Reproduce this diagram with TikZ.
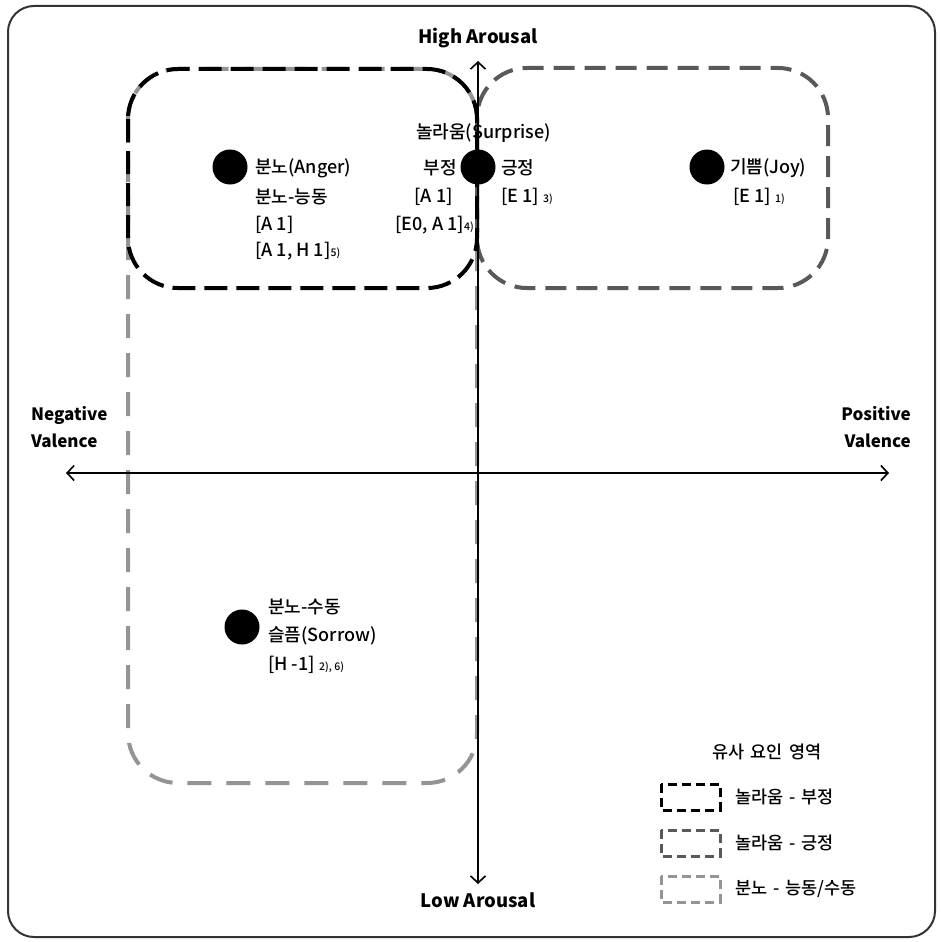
\documentclass[tikz,border=0pt]{standalone}
\usepackage{fontspec}
\setmainfont{Noto Sans CJK KR}
\newfontfamily\labfont{Noto Sans CJK KR Medium}
\usetikzlibrary{arrows.meta}
\begin{document}
\begin{tikzpicture}[x=1pt,y=-1pt,
  lbl/.style={inner sep=0pt, font=\labfont\fontsize{18}{18}\selectfont},
  leg/.style={inner sep=0pt, font=\labfont\fontsize{17.5}{17.5}\selectfont},
  axl/.style={inner sep=0pt, font=\fontsize{18.5}{22}\selectfont\bfseries, align=center},
  axs/.style={inner sep=0pt, font=\fontsize{17}{27}\selectfont\bfseries},
  dot/.style={circle, fill=black, minimum size=35pt, inner sep=0pt},
  region/.style={line width=4pt, rounded corners=50pt},
  axis/.style={line width=1.6pt, {Straight Barb[length=7pt,width=15pt,line width=1.6pt]}-{Straight Barb[length=7pt,width=15pt,line width=1.6pt]}},
  legbox/.style={line width=3pt, dash pattern=on 9pt off 5pt},
  negc/.style={black},
  posc/.style={draw=black!65},
  angc/.style={draw=black!42}]
\newcommand{\smn}[1]{{\fontsize{10.5}{10.5}\selectfont #1}}
\useasboundingbox (0,0) rectangle (942,942);
% outer frame
\draw[line width=2pt, black!80, rounded corners=26pt] (8,6) rectangle (935,937);
% regions
\draw[region, angc, dash pattern=on 24pt off 15pt] (128,69) rectangle (477,783);
\draw[region, posc, dash pattern=on 21pt off 10pt] (477,68) rectangle (828,288);
\draw[region, negc, dash pattern=on 23pt off 9pt] (128,69) rectangle (477,288);
% axes
\coordinate (ytop) at (478,61);
\coordinate (ybot) at (478,884);
\coordinate (xl) at (66,473);
\coordinate (xr) at (889,473);
\draw[axis] (ybot) -- (ytop);
\draw[axis] (xl) -- (xr);
\node[axl] (high) at (478,38) {High Arousal};
\node[axl] (low) at (478,900) {Low Arousal};
\node[axs, anchor=west, align=left] (neg) at (31,427) {Negative\\Valence};
\node[axs, anchor=east, align=right] (pos) at (911,427) {Positive\\Valence};
% dots
\node[dot] (anger) at (230,167) {};
\node[dot] (surprise) at (478,167) {};
\node[dot] (joy) at (707,167) {};
\node[dot] (sorrow) at (242,627) {};
% anger texts
\node[lbl, anchor=west] (a1) at (255,168) {분노(Anger)};
\node[lbl, anchor=west] (a2) at (255,197) {분노-능동};
\node[lbl, anchor=west] (a3) at (255,225) {[A 1]};
\node[lbl, anchor=west] (a4) at (255,251) {[A 1, H 1]\smn{5)}};
% surprise texts
\node[lbl, anchor=west] (s0) at (416,133) {놀라움(Surprise)};
\node[lbl, anchor=east] (s1) at (457,168) {부정};
\node[lbl, anchor=east] (s2) at (453,197) {[A 1]};
\node[lbl, anchor=east] (s3) at (474,225) {[E0, A 1]\smn{4)}};
\node[lbl, anchor=west] (s4) at (501,168) {긍정};
\node[lbl, anchor=west] (s5) at (501,197) {[E 1] \smn{3)}};
% joy texts
\node[lbl, anchor=west] (j1) at (730,168) {기쁨(Joy)};
\node[lbl, anchor=west] (j2) at (733,197) {[E 1] \smn{1)}};
% sorrow texts
\node[lbl, anchor=west] (w1) at (268,607) {분노-수동};
\node[lbl, anchor=west] (w2) at (268,636) {슬픔(Sorrow)};
\node[lbl, anchor=west] (w3) at (268,665) {[H -1] \smn{2), 6)}};
% legend
\node[leg] (legtitle) at (767,752) {유사\hspace{6pt}요인\hspace{6pt}영역};
\draw[legbox, negc] (661,784) rectangle (720,810);
\draw[legbox, posc] (661,830) rectangle (720,856);
\draw[legbox, angc] (661,876) rectangle (720,902);
\node[leg, anchor=west] (l1) at (735,797) {놀라움\hspace{6pt}-\hspace{6pt}부정};
\node[leg, anchor=west] (l2) at (735,843) {놀라움\hspace{6pt}-\hspace{6pt}긍정};
\node[leg, anchor=west] (l3) at (735,889) {분노\hspace{6pt}-\hspace{6pt}능동/수동};
\end{tikzpicture}
\end{document}
